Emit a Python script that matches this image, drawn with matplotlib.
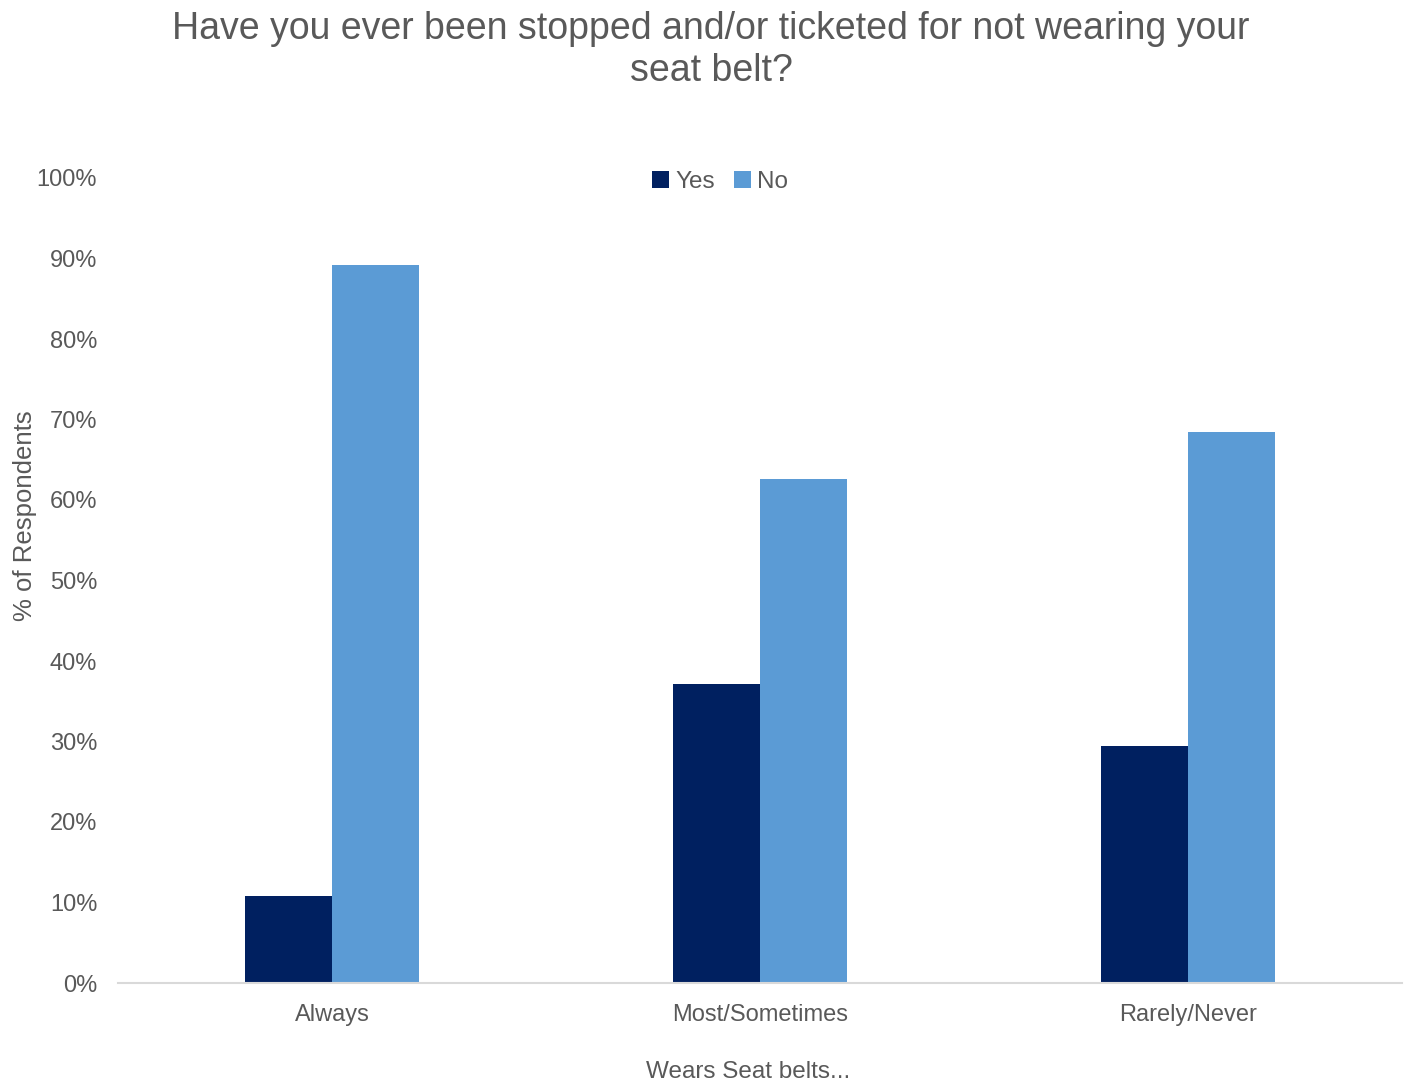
import matplotlib
matplotlib.use("Agg")
import matplotlib.pyplot as plt
import numpy as np
from matplotlib.ticker import FuncFormatter

categories = ["Always", "Most/Sometimes", "Rarely/Never"]
yes_vals = [10.8, 37.2, 29.4]
no_vals = [89.2, 62.6, 68.5]
series_names = ["Yes", "No"]
yticks = [0, 10, 20, 30, 40, 50, 60, 70, 80, 90, 100]

plt.rcParams['font.family'] = ['Liberation Sans', 'DejaVu Sans']
grey = '#595959'
c_yes = '#002060'
c_no = '#5B9BD5'

W, H = 1410, 1085
fig = plt.figure(figsize=(W/100, H/100), dpi=100)
ax = fig.add_axes([118/W, 1-983/H, (1402-118)/W, (983-178)/H])

x = np.arange(len(categories))
bw = 0.203
ax.bar(x - bw/2, yes_vals, bw, color=c_yes, label=series_names[0])
ax.bar(x + bw/2, no_vals, bw, color=c_no, label=series_names[1])

ax.set_xlim(-0.5, 2.5)
ax.set_ylim(0, 100)
ax.set_yticks(yticks)
ax.yaxis.set_major_formatter(FuncFormatter(lambda v, p: f"{int(v)}%"))
ax.set_xticks(x)
ax.set_xticklabels(categories)
ax.tick_params(axis='both', length=0, labelsize=17, labelcolor=grey)
ax.tick_params(axis='y', pad=15)
ax.tick_params(axis='x', pad=15)
for s in ['top', 'right', 'left']:
    ax.spines[s].set_visible(False)
ax.spines['bottom'].set_color('#d9d9d9')
ax.spines['bottom'].set_linewidth(1.5)

fig.text(25/W, 1-516/H, "% of Respondents", rotation=90, ha='center', va='center',
         fontsize=18.5, color=grey)

fig.text(748/W, 1-1072/H, "Wears Seat belts...", ha='center', va='center', fontsize=17.5, color=grey)
fig.text(711/W, 1-50/H, "Have you ever been stopped and/or ticketed for not wearing your\nseat belt?",
         ha='center', va='center', fontsize=27, color=grey, linespacing=1.18)

leg = ax.legend(loc='center', bbox_to_anchor=((720-118)/(1402-118), (983-182)/(983-178)),
                ncol=2, frameon=False, fontsize=17.5, handlelength=0.7, handleheight=0.7,
                handletextpad=0.25, columnspacing=0.8)
for t in leg.get_texts():
    t.set_color(grey)

fig.savefig("out.png", dpi=100)
